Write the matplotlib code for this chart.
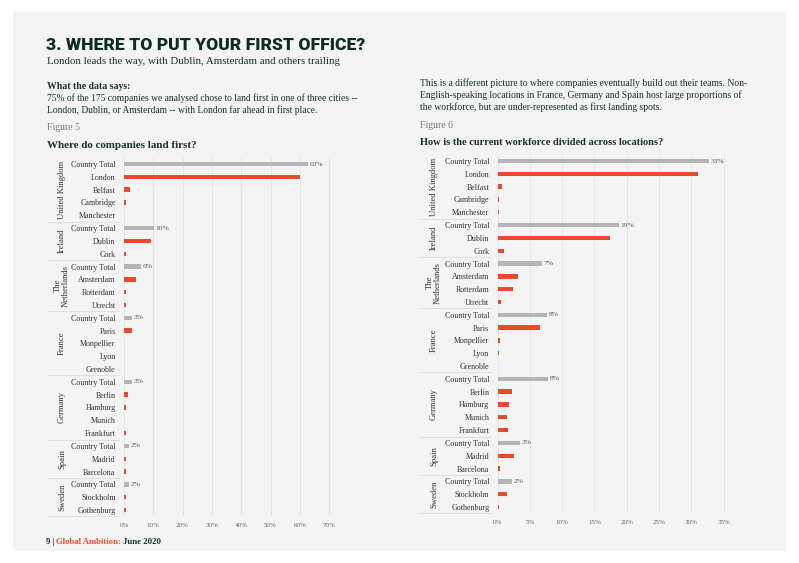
import matplotlib
matplotlib.use("Agg")
import matplotlib.pyplot as plt
import matplotlib.transforms as mtransforms

# data (percentages)
countries = ["United Kingdom", "Ireland", "The\nNetherlands", "France", "Germany", "Spain", "Sweden"]
cities = [
    ["Country Total", "London", "Belfast", "Cambridge", "Manchester"],
    ["Country Total", "Dublin", "Cork"],
    ["Country Total", "Amsterdam", "Rotterdam", "Utrecht"],
    ["Country Total", "Paris", "Monpellier", "Lyon", "Grenoble"],
    ["Country Total", "Berlin", "Hamburg", "Munich", "Frankfurt"],
    ["Country Total", "Madrid", "Barcelona"],
    ["Country Total", "Stockholm", "Gothenburg"],
]
landing = [
    [62.9, 60.0, 2.0, 0.6, 0.0],
    [10.3, 9.1, 0.6],
    [5.7, 4.0, 0.6, 0.6],
    [2.9, 2.9, 0.0, 0.0, 0.0],
    [2.9, 1.4, 0.6, 0.0, 0.6],
    [1.7, 0.6, 0.6],
    [1.7, 0.6, 0.6],
]
workforce = [
    [32.7, 31.0, 0.6, 0.25, 0.15],
    [18.8, 17.4, 1.0],
    [6.8, 3.2, 2.3, 0.5],
    [7.6, 6.5, 0.4, 0.15, 0.05],
    [7.8, 2.2, 1.8, 1.4, 1.6],
    [3.4, 2.5, 0.35],
    [2.2, 1.5, 0.15],
]
left_ticks = [0, 10, 20, 30, 40, 50, 60, 70]
right_ticks = [0, 5, 10, 15, 20, 25, 30, 35]

W, H = 799, 563
BG = "#f4f4f4"
RED = "#ea4a2c"
GREY = "#b4b4b4"
INK = "#17302b"
SERIF = "Liberation Serif"

fig = plt.figure(figsize=(W / 100, H / 100), dpi=100)
fig.patch.set_facecolor("white")
# page background
fig.patches.append(plt.Rectangle((13 / W, 1 - 551 / H), (786 - 13) / W, (551 - 12) / H,
                                 transform=fig.transFigure, facecolor=BG, edgecolor="none", zorder=-5))


def ftext(x, y, s, **kw):
    fig.text(x / W, 1 - y / H, s, va="center", ha="left", **kw)


ftext(46, 45, "3. WHERE TO PUT YOUR FIRST OFFICE?", fontsize=12.6, fontweight=900,
      family="Roboto", color="#0c2d27")
ftext(47, 61, "London leads the way, with Dublin, Amsterdam and others trailing",
      fontsize=7.8, family=SERIF, color=INK)
ftext(47, 86, "What the data says:", fontsize=7.0, family=SERIF, fontweight="bold", color=INK)
ftext(47, 98, "75% of the 175 companies we analysed chose to land first in one of three cities --",
      fontsize=6.85, family=SERIF, color=INK)
ftext(47, 110, "London, Dublin, or Amsterdam -- with London far ahead in first place.",
      fontsize=6.85, family=SERIF, color=INK)
ftext(47, 128, "Figure 5", fontsize=7.0, family=SERIF, color="#777777")
ftext(47, 146, "Where do companies land first?", fontsize=7.9, family=SERIF, fontweight="bold", color=INK)

ftext(420, 83, "This is a different picture to where companies eventually build out their teams. Non-",
      fontsize=6.9, family=SERIF, color=INK)
ftext(420, 95, "English-speaking locations in France, Germany and Spain host large proportions of",
      fontsize=6.9, family=SERIF, color=INK)
ftext(420, 107, "the workforce, but are under-represented as first landing spots.",
      fontsize=6.9, family=SERIF, color=INK)
ftext(420, 125, "Figure 6", fontsize=7.0, family=SERIF, color="#777777")
ftext(420, 142, "How is the current workforce divided across locations?", fontsize=7.5, family=SERIF,
      fontweight="bold", color=INK)

ftext(46, 542, "9 |", fontsize=6.3, family=SERIF, fontweight="bold", color=INK)
ftext(56, 542, "Global Ambition:", fontsize=6.2, family=SERIF, fontweight="bold", color=RED)
ftext(123, 542, "June 2020", fontsize=6.3, family=SERIF, fontweight="bold", color=INK)


def draw(ax, values, ticks, xmax, label_x0, sep_x0):
    labels = [c for grp in cities for c in grp]
    vals = [v for grp in values for v in grp]
    is_total = [c == "Country Total" for c in labels]
    ys = list(range(len(labels)))
    ax.set_facecolor("none")
    ax.barh(ys, vals, height=0.34, color=[GREY if t else RED for t in is_total], zorder=3)
    for y, v, t in zip(ys, vals, is_total):
        if t:
            ax.text(v + xmax * 0.008, y, f"{round(v)}%", va="center", ha="left",
                    fontsize=5.4, family=SERIF, color="#555555")
    ax.set_xlim(0, xmax)
    ax.set_ylim(len(labels) - 0.5, -0.5)
    ax.set_xticks(ticks)
    ax.set_xticklabels([f"{t}%" for t in ticks], fontsize=5.0, family=SERIF, color="#666666")
    ax.set_yticks(ys)
    ax.set_yticklabels(labels, fontsize=5.8, family=SERIF, color="#333333")
    ax.tick_params(length=0, axis="y", pad=6)
    ax.tick_params(length=0, axis="x", pad=5)
    ax.grid(axis="x", color="#e3e3e3", linewidth=0.6, zorder=0)
    for s in ax.spines.values():
        s.set_visible(False)
    # group separators and country labels
    trans = mtransforms.blended_transform_factory(fig.transFigure, ax.transData)
    start = 0
    for name, grp in zip(countries, cities):
        end = start + len(grp)
        ax.plot([sep_x0 / W, (sep_x0 + 72) / W], [end - 0.5, end - 0.5], transform=trans,
                color="#dcdcdc", linewidth=0.6, clip_on=False)
        ax.text(label_x0 / W, (start + end - 1) / 2, name, transform=trans, rotation=90,
                ha="center", va="center", fontsize=6.2, family=SERIF, color="#333333",
                multialignment="center", linespacing=1.0)
        start = end


ax1 = fig.add_axes([124 / W, 1 - 516.4 / H, (335 - 124) / W, (516.4 - 157.6) / H])
draw(ax1, landing, left_ticks, 72, 62, 47)
ax2 = fig.add_axes([497.7 / W, 1 - 513.4 / H, (730 - 497.7) / W, (513.4 - 154.6) / H])
draw(ax2, workforce, right_ticks, 36, 434, 419)

fig.savefig("out.png", dpi=100, facecolor=fig.get_facecolor())
